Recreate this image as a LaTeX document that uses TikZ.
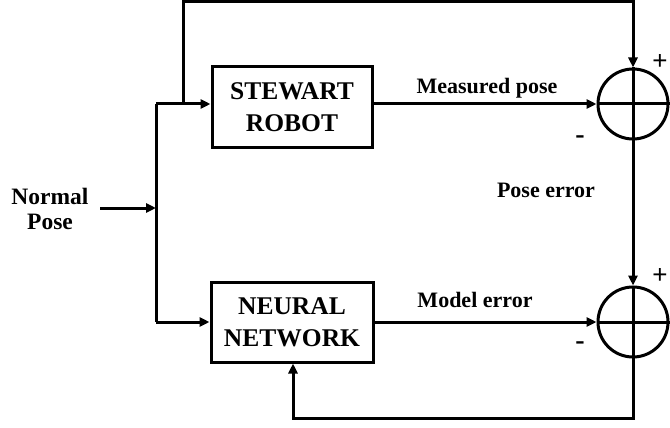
\documentclass[tikz,border=0pt]{standalone}
\usepackage{fontspec}
\setmainfont{Liberation Serif}
\newfontfamily\plusfont{Liberation Sans}
\usetikzlibrary{arrows.meta,calc}
\begin{document}
\begin{tikzpicture}[x=1pt,y=-1pt,
  line width=3pt,
  arr/.style={-{Triangle[length=10pt,width=9pt]}},
  blk/.style={draw,line width=3pt,minimum width=160pt,minimum height=80pt,inner sep=0pt,align=center,font=\fontsize{25.5}{32}\selectfont\bfseries},
  lbl/.style={font=\fontsize{22}{25}\selectfont\bfseries,inner sep=0pt},
  sumc/.style={draw,circle,line width=3pt,minimum size=70pt,inner sep=0pt},
  sgn/.style={inner sep=0pt,font=\fontsize{26}{26}\selectfont\plusfont},
  msign/.style={inner sep=0pt,font=\fontsize{28}{28}\selectfont\bfseries}]
\useasboundingbox (0,0) rectangle (670,428);
% nodes
\node[blk] (S) at (292,107) {STEWART\\ROBOT};
\node[blk,minimum width=162pt] (N) at (292,322) {NEURAL\\NETWORK};
\node[sumc] (C1) at (633,104) {};
\node[sumc] (C2) at (633,322) {};
\node[align=center,font=\fontsize{23.5}{25}\selectfont\bfseries,inner sep=0pt] (in) at (50,209) {Normal\\Pose};
\node[lbl] (lm) at (487,88) {Measured pose};
\node[lbl] (le) at (475,300) {Model error};
\node[lbl] (lp) at (546,190) {Pose error};
\node[sgn] (p1) at (660,62) {+};
\node[sgn] (p2) at (660,276) {+};
\node[msign] (m1) at (580,140) {-};
\node[msign] (m2) at (580,346) {-};
% coordinates
\coordinate (a0) at (100,208);
\coordinate (aj) at (156,208);
\coordinate (sj) at (156,104);
\coordinate (nj) at (156,322);
\coordinate (tj) at (183,104);
\coordinate (t1) at (183,2);
\coordinate (t2) at (633,2);
\coordinate (b1) at (633,418);
\coordinate (b2) at (293,418);
\coordinate (r1) at (670,104);
\coordinate (r2) at (670,322);
% circle crosses
\draw (C1.north) -- (C1.south);
\draw (C1.west) -- (r1);
\draw (C2.north) -- (C2.south);
\draw (C2.west) -- (r2);
% connectors
\draw[arr] (a0) -- (aj);
\draw (sj) -- (nj);
\draw[arr] (sj) -- (sj -| S.west);
\draw[arr] (nj) -- (N.west);
\draw[arr] (tj) -- (t1) -- (t2) -- (C1.north);
\draw[arr] (S.east |- C1) -- (C1.west);
\draw[arr] (N.east) -- (C2.west);
\draw[arr] (C1.south) -- (C2.north);
\draw[arr] (C2.south) -- (b1) -- (b2) -- (b2 |- N.south);
\end{tikzpicture}
\end{document}
